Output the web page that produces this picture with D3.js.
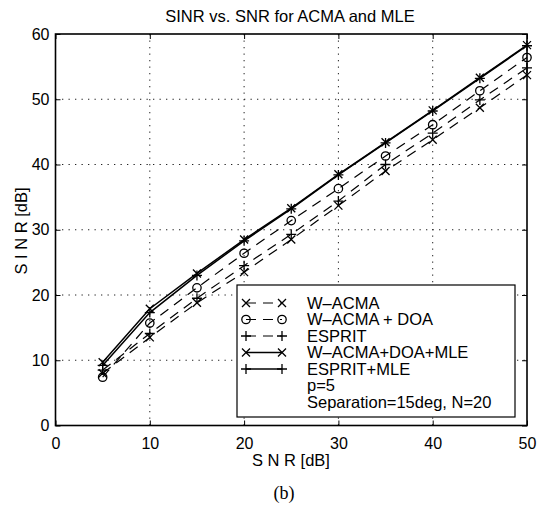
<!DOCTYPE html>
<html>
<head>
<meta charset="utf-8">
<script src="https://cdn.jsdelivr.net/npm/d3@7"></script>
<style>
  html, body { margin: 0; padding: 0; background: #fff; }
  svg { display: block; }
  text { font-family: "Liberation Sans", Arial, Helvetica, sans-serif; fill: #000; }
</style>
</head>
<body>
<script>
// SNR sweep (dB) and resulting output SINR (dB) per method
const snr = [5, 10, 15, 20, 25, 30, 35, 40, 45, 50];
const wAcma = [8.0, 13.5, 18.8, 23.5, 28.5, 33.7, 39.0, 43.8, 48.7, 53.7];
const wAcmaDoa = [7.4, 15.7, 21.1, 26.4, 31.4, 36.3, 41.3, 46.1, 51.3, 56.4];
const esprit = [8.5, 14.1, 19.5, 24.5, 29.3, 34.4, 40.0, 44.8, 49.9, 54.8];
const wAcmaDoaMle = [9.7, 17.9, 23.3, 28.5, 33.3, 38.5, 43.4, 48.3, 53.3, 58.3];
const espritMle = [9.2, 17.3, 23.0, 28.3, 33.2, 38.4, 43.3, 48.2, 53.2, 58.2];

const xTicks = [0, 10, 20, 30, 40, 50];
const yTicks = [0, 10, 20, 30, 40, 50, 60];

const seriesNames = ["W\u2013ACMA", "W\u2013ACMA + DOA", "ESPRIT", "W\u2013ACMA+DOA+MLE", "ESPRIT+MLE"];
const noteLines = ["p=5", "Separation=15deg, N=20"];

const series = [
  { name: seriesNames[0], values: wAcma, marker: "x", dashed: true },
  { name: seriesNames[1], values: wAcmaDoa, marker: "o", dashed: true },
  { name: seriesNames[2], values: esprit, marker: "+", dashed: true },
  { name: seriesNames[3], values: wAcmaDoaMle, marker: "x", dashed: false },
  { name: seriesNames[4], values: espritMle, marker: "+", dashed: false }
];

const W = 538, H = 506;
const plot = { left: 55.5, right: 527, top: 34, bottom: 425.5 };

const svg = d3.select("body").append("svg").attr("width", W).attr("height", H);

const x = d3.scaleLinear().domain([0, 50]).range([plot.left, plot.right]);
const y = d3.scaleLinear().domain([0, 60]).range([plot.bottom, plot.top]);

// dotted grid
const grid = svg.append("g")
  .attr("stroke", "#222").attr("stroke-width", 1).attr("stroke-dasharray", "1.3,5.2");
grid.selectAll(".gx").data(xTicks.slice(1, -1)).join("line")
  .attr("x1", d => x(d)).attr("x2", d => x(d))
  .attr("y1", plot.top).attr("y2", plot.bottom);
grid.selectAll(".gy").data(yTicks.slice(1, -1)).join("line")
  .attr("y1", d => y(d)).attr("y2", d => y(d))
  .attr("x1", plot.left).attr("x2", plot.right);

// axes with inward ticks
const tickLen = 5;
const xAxis = svg.append("g").attr("transform", `translate(0,${plot.bottom})`)
  .call(d3.axisBottom(x).tickValues(xTicks).tickSizeInner(-tickLen).tickSizeOuter(0).tickPadding(12));
const yAxis = svg.append("g").attr("transform", `translate(${plot.left},0)`)
  .call(d3.axisLeft(y).tickValues(yTicks).tickSizeInner(-tickLen).tickSizeOuter(0).tickPadding(6));
const xTop = svg.append("g").attr("transform", `translate(0,${plot.top})`)
  .call(d3.axisTop(x).tickValues(xTicks).tickSizeInner(-tickLen).tickSizeOuter(0).tickFormat(""));
const yRight = svg.append("g").attr("transform", `translate(${plot.right},0)`)
  .call(d3.axisRight(y).tickValues(yTicks).tickSizeInner(-tickLen).tickSizeOuter(0).tickFormat(""));

[xAxis, yAxis, xTop, yRight].forEach(g => {
  g.select(".domain").remove();
  g.selectAll(".tick line").attr("stroke", "#000").attr("stroke-width", 1);
  g.selectAll("text").style("font-size", "16px").attr("fill", "#000")
    .style("font-family", "'Liberation Sans', Arial, sans-serif");
});

// frame
svg.append("rect")
  .attr("x", plot.left).attr("y", plot.top)
  .attr("width", plot.right - plot.left).attr("height", plot.bottom - plot.top)
  .attr("fill", "none").attr("stroke", "#000").attr("stroke-width", 1.6);

// curves
const line = d3.line().x((d, i) => x(snr[i])).y(d => y(d));
const dashPattern = "10,7";

function drawMarker(g, type, cx, cy) {
  const s = 4;
  if (type === "x") {
    g.append("path").attr("d", `M${cx - s},${cy - s}L${cx + s},${cy + s}M${cx - s},${cy + s}L${cx + s},${cy - s}`)
      .attr("stroke", "#000").attr("stroke-width", 1.3).attr("fill", "none");
  } else if (type === "+") {
    const t = 5;
    g.append("path").attr("d", `M${cx - t},${cy}L${cx + t},${cy}M${cx},${cy - t}L${cx},${cy + t}`)
      .attr("stroke", "#000").attr("stroke-width", 1.3).attr("fill", "none");
  } else {
    g.append("circle").attr("cx", cx).attr("cy", cy).attr("r", 4.2)
      .attr("stroke", "#000").attr("stroke-width", 1.3).attr("fill", "none");
  }
}

const curves = svg.append("g");
series.forEach(s => {
  curves.append("path").datum(s.values)
    .attr("d", line)
    .attr("fill", "none").attr("stroke", "#000")
    .attr("stroke-width", s.dashed ? 1.2 : 1.5)
    .attr("stroke-dasharray", s.dashed ? dashPattern : null);
  const mg = curves.append("g");
  s.values.forEach((v, i) => drawMarker(mg, s.marker, x(snr[i]), y(v)));
});

// legend
const lg = { x: 237, y: 285, w: 278, h: 132 };
const legend = svg.append("g");
legend.append("rect").attr("x", lg.x).attr("y", lg.y).attr("width", lg.w).attr("height", lg.h)
  .attr("fill", "#fff").attr("stroke", "#000").attr("stroke-width", 1.2);
const rowY0 = 303, rowStep = 16.5;
const sx1 = 246, sx2 = 282, textX = 307;
series.forEach((s, i) => {
  const ry = rowY0 + i * rowStep;
  legend.append("line").attr("x1", sx1).attr("x2", sx2).attr("y1", ry).attr("y2", ry)
    .attr("stroke", "#000").attr("stroke-width", s.dashed ? 1.2 : 1.4)
    .attr("stroke-dasharray", s.dashed ? dashPattern : null);
  drawMarker(legend, s.marker, sx1, ry);
  drawMarker(legend, s.marker, sx2, ry);
  legend.append("text").attr("x", textX).attr("y", ry).attr("dy", "0.36em")
    .style("font-size", "16.5px").text(s.name);
});
noteLines.forEach((t, j) => {
  legend.append("text").attr("x", textX).attr("y", rowY0 + (series.length + j) * rowStep)
    .attr("dy", "0.36em").style("font-size", "16.5px").text(t);
});

// titles
svg.append("text").attr("x", 290).attr("y", 21.5).attr("text-anchor", "middle")
  .style("font-size", "16.5px").text("SINR vs. SNR for ACMA and MLE");
svg.append("text").attr("x", 291).attr("y", 465.5).attr("text-anchor", "middle")
  .style("font-size", "16.5px").text("S N R [dB]");
svg.append("text").attr("transform", "translate(26.5,231) rotate(-90)").attr("text-anchor", "middle")
  .style("font-size", "16.5px").text("S I N R [dB]");
svg.append("text").attr("x", 284).attr("y", 499).attr("text-anchor", "middle")
  .style("font-family", "'Liberation Serif', 'Times New Roman', serif").style("font-size", "18px").text("(b)");
</script>
</body>
</html>
